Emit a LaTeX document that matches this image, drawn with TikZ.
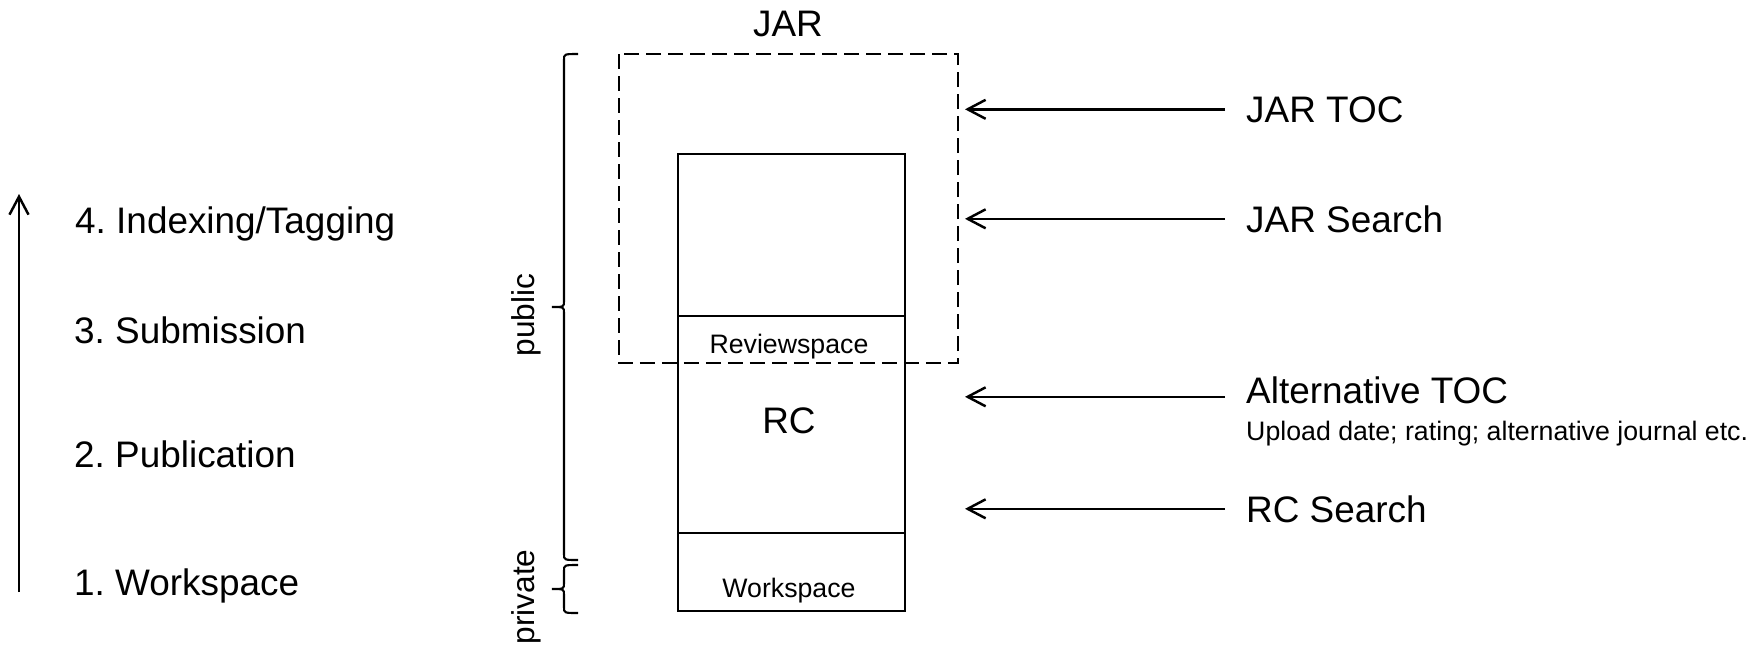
\documentclass[tikz,border=0pt]{standalone}
\usepackage{fontspec}
\setmainfont{Liberation Sans}
\frenchspacing
\usetikzlibrary{arrows.meta}
\def\sidebrace[#1](#2:#3){\draw[#1] (578, #2) .. controls (564, #2) .. (564, {#2+6}) -- (564, {(#2+#3)/2-6}) .. controls (564, {(#2+#3)/2}) .. (552, {(#2+#3)/2}) .. controls (564, {(#2+#3)/2}) .. (564, {(#2+#3)/2+6}) -- (564, {#3-6}) .. controls (564, #3) .. (578, #3);}

\begin{document}
\begin{tikzpicture}[x=0.1mm, y=-0.1mm, line width=0.7pt,
	biglabel/.style={inner sep=0, font=\fontsize{10.5}{12}\selectfont},
	smalllabel/.style={inner sep=0, font=\fontsize{7.6}{9}\selectfont},
	sidelabel/.style={inner sep=0, rotate=90, font=\fontsize{9}{11}\selectfont},
	viewarrow/.style={-{Straight Barb[length=1.8mm, width=1.9mm]}}]
		%%%%% START %%%%%
		\useasboundingbox (0, 0) rectangle (1752, 648);
		
		\draw (678, 154) rectangle (905, 611);
		\draw (678, 316) -- (905, 316);
		\draw (678, 533) -- (905, 533);
		\draw[line width=0.6pt, dash pattern=on 1.5mm off 0.7mm] (619, 54) rectangle (958, 363);
		\coordinate (jaredge) at (965, 0);
		
		\node[biglabel, anchor=base] (jar) at (788, 36) {JAR};
		\node[smalllabel, anchor=base] (review) at (789, 353) {Reviewspace};
		\node[biglabel, anchor=base] (rc) at (789, 433) {RC};
		\node[smalllabel, anchor=base] (work) at (789, 597) {Workspace};
		
		\sidebrace[line width=0.6pt](54:560);
		\sidebrace[line width=0.6pt](565:613);
		\node[sidelabel] (public) at (526, 315) {public};
		\node[sidelabel] (private) at (526, 597) {private};
		
		\coordinate (stepbottom) at (19, 592);
		\coordinate (steptop) at (19, 194);
		\draw[viewarrow] (stepbottom) -- (steptop);
		\node[biglabel, anchor=base west] (tagging) at (74, 233) {4. Indexing/Tagging};
		\node[biglabel, anchor=base west] (submission) at (73, 343) {3. Submission};
		\node[biglabel, anchor=base west] (publication) at (73, 467) {2. Publication};
		\node[biglabel, anchor=base west] (workspace) at (73, 595) {1. Workspace};
		
		\node[biglabel, anchor=base west] (jartoc) at (1245, 122) {JAR TOC};
		\node[biglabel, anchor=base west] (jarsearch) at (1245, 232) {JAR Search};
		\node[biglabel, anchor=base west] (alttoc) at (1245, 403) {Alternative TOC};
		\node[smalllabel, anchor=base west] (altnote) at (1245, 440) {Upload date; rating; alternative journal etc.};
		\node[biglabel, anchor=base west] (rcsearch) at (1245, 522) {RC Search};
		
		\draw[viewarrow] ([xshift=-2mm]jartoc.west) -- (jartoc.west -| jaredge);
		\draw[viewarrow] ([xshift=-2mm]jarsearch.west) -- (jarsearch.west -| jaredge);
		\draw[viewarrow] ([xshift=-2mm, yshift=-0.7mm]alttoc.west) -- ([yshift=-0.7mm]alttoc.west -| jaredge);
		\draw[viewarrow] ([xshift=-2mm]rcsearch.west) -- (rcsearch.west -| jaredge);
		
		%%%%% END %%%%%
	\end{tikzpicture}
\end{document}
